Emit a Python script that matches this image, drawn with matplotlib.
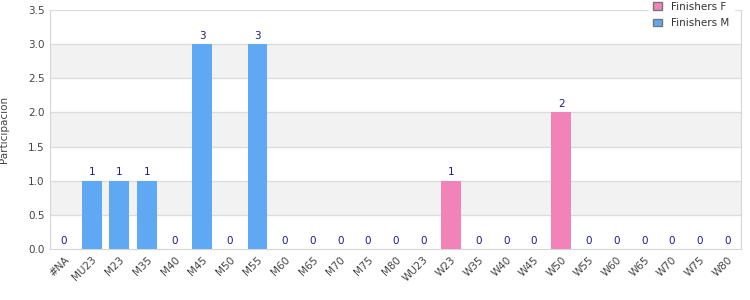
import matplotlib
matplotlib.use("Agg")
import matplotlib.pyplot as plt
from matplotlib.patches import Patch

categories = ["#NA", "MU23", "M23", "M35", "M40", "M45", "M50", "M55", "M60", "M65",
              "M70", "M75", "M80", "WU23", "W23", "W35", "W40", "W45", "W50", "W55",
              "W60", "W65", "W70", "W75", "W80"]
finishers_m = [0, 1, 1, 1, 0, 3, 0, 3, 0, 0, 0, 0, 0, 0, 0, 0, 0, 0, 0, 0, 0, 0, 0, 0, 0]
finishers_f = [0, 0, 0, 0, 0, 0, 0, 0, 0, 0, 0, 0, 0, 0, 1, 0, 0, 0, 2, 0, 0, 0, 0, 0, 0]
is_female = [0]*13 + [1]*12

col_m = "#5fa8f3"
col_f = "#f283b8"

fig = plt.figure(figsize=(7.5, 3), dpi=100)
ax = fig.add_axes([0.067, 0.170, 0.921, 0.797])

ax.set_ylim(0, 3.5)
ax.set_xlim(-0.5, len(categories) - 0.5)
for i in range(7):
    lo = i * 0.5
    if i % 2 == 1:
        ax.axhspan(lo, lo + 0.5, color="#f2f2f2", zorder=0, lw=0)
for y in [0.5, 1.0, 1.5, 2.0, 2.5, 3.0, 3.5]:
    ax.axhline(y, color="#dddddd", lw=1, zorder=0.5)

x = list(range(len(categories)))
vals = [f if w else m for m, f, w in zip(finishers_m, finishers_f, is_female)]
colors = [col_f if w else col_m for w in is_female]
ax.bar(x, vals, width=0.72, color=colors, zorder=2)
for xi, v in zip(x, vals):
    ax.text(xi, v + 0.05, f"{v:d}", ha="center", va="bottom", fontsize=7.5, color="#1c1c8c", zorder=3)

ax.set_xticks(x)
ax.set_xticklabels(categories, rotation=45, ha="right", rotation_mode="anchor", fontsize=7.5, color="#444444")
ax.set_yticks([0, 0.5, 1.0, 1.5, 2.0, 2.5, 3.0, 3.5])
ax.set_yticklabels([f"{v:.1f}" for v in [0, 0.5, 1.0, 1.5, 2.0, 2.5, 3.0, 3.5]], fontsize=7.5, color="#444444")
ax.tick_params(length=0, pad=4)
ax.set_ylabel("Participación", fontsize=7.5, color="#444444")
ax.yaxis.set_label_coords(-0.059, 0.5)

for s in ["left", "bottom", "right", "top"]:
    ax.spines[s].set_color("#d6d6d6")
ax.spines["top"].set_visible(False)

handles = [Patch(facecolor=col_f, edgecolor="#777777", label="Finishers F"),
           Patch(facecolor=col_m, edgecolor="#777777", label="Finishers M")]
leg = fig.legend(handles=handles, loc="upper right", bbox_to_anchor=(0.985, 1.025),
                 fontsize=7.5, frameon=True, handlelength=0.8, handleheight=0.8,
                 borderpad=0.4, labelspacing=0.6, handletextpad=0.9, fancybox=False)
leg.get_frame().set_edgecolor("white")
leg.get_frame().set_facecolor("white")
leg.get_frame().set_alpha(1)
for t in leg.get_texts():
    t.set_color("#333333")

fig.savefig("out.png", dpi=100)
